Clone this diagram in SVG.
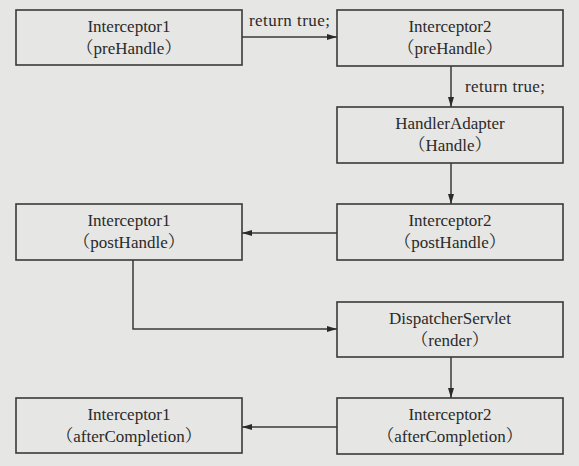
<svg xmlns="http://www.w3.org/2000/svg" width="579" height="466" viewBox="0 0 579 466">
<style>
.box{fill:#e6e6e4;stroke:#3a3a3a;stroke-width:1.6}
.t{font-family:"Liberation Serif","Noto Serif CJK SC","Noto Sans CJK SC",serif;font-size:17px;fill:#2a2a2a;text-anchor:middle}
.lbl{font-family:"Liberation Serif",serif;font-size:17px;fill:#2a2a2a}
.c{fill:none;stroke:#3a3a3a;stroke-width:1.5;marker-end:url(#ah)}
</style>
<defs>
<marker id="ah" viewBox="0 0 10 6" refX="10" refY="3" markerWidth="10" markerHeight="6" markerUnits="userSpaceOnUse" orient="auto">
<path d="M0,0 L10,3 L0,6 Z" fill="#2a2a2a"/>
</marker>
</defs>
<rect width="579" height="466" fill="#e6e6e4"/>
<g id="connectors">
<path class="c" d="M242,37 H337"/>
<path class="c" d="M451,66 V107"/>
<path class="c" d="M451,163 V204"/>
<path class="c" d="M337,233 H242"/>
<path class="c" d="M133,260 V329 H337"/>
<path class="c" d="M451,357 V398"/>
<path class="c" d="M337,427 H242"/>
<text class="lbl" x="249" y="26" textLength="81">return true;</text>
<text class="lbl" x="465" y="92" textLength="80">return true;</text>
</g>
<g id="i1pre"><rect class="box" x="16" y="10" width="226" height="55"/><text class="t" x="129" y="32">Interceptor1</text><text class="t" x="129" y="54">（preHandle）</text></g>
<g id="i2pre"><rect class="box" x="337" y="10" width="226" height="56"/><text class="t" x="450" y="32">Interceptor2</text><text class="t" x="450" y="54">（preHandle）</text></g>
<g id="ha"><rect class="box" x="337" y="107" width="226" height="56"/><text class="t" x="450" y="129">HandlerAdapter</text><text class="t" x="450" y="151">（Handle）</text></g>
<g id="i2post"><rect class="box" x="337" y="204" width="226" height="56"/><text class="t" x="450" y="226">Interceptor2</text><text class="t" x="450" y="248">（postHandle）</text></g>
<g id="i1post"><rect class="box" x="16" y="204" width="226" height="56"/><text class="t" x="129" y="226">Interceptor1</text><text class="t" x="129" y="248">（postHandle）</text></g>
<g id="ds"><rect class="box" x="337" y="302" width="226" height="55"/><text class="t" x="450" y="324">DispatcherServlet</text><text class="t" x="450" y="346">（render）</text></g>
<g id="i2after"><rect class="box" x="337" y="398" width="226" height="56"/><text class="t" x="450" y="420">Interceptor2</text><text class="t" x="450" y="442">（afterCompletion）</text></g>
<g id="i1after"><rect class="box" x="16" y="398" width="226" height="55"/><text class="t" x="129" y="420">Interceptor1</text><text class="t" x="129" y="442">（afterCompletion）</text></g>
</svg>
